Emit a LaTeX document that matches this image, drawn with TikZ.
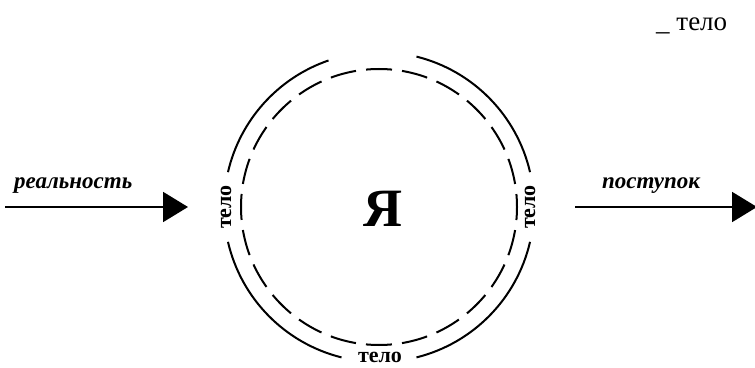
\documentclass[tikz,border=0pt]{standalone}
\usepackage{fontspec}
\setmainfont{Liberation Serif}
\usetikzlibrary{arrows.meta}

\begin{document}
\begin{tikzpicture}[x=1pt, y=1pt,
  ring/.style={line width=2pt},
  dashring/.style={line width=2pt, dash pattern=on 26pt off 10.13pt, dash phase=13pt},
  body/.style={font=\fontsize{22}{22}\selectfont\bfseries, inner sep=0pt},
  flow/.style={font=\fontsize{23}{23}\selectfont\bfseries\itshape, inner sep=0pt},
  arr/.style={line width=2pt, -{Triangle[length=25pt,width=30pt]}}
]
\useasboundingbox (0,0) rectangle (755,367);

% centre of the two rings
\coordinate (c) at (379,160);

% outer ring, broken at the four sides
\draw[ring] ([shift={(13:155pt)}]c) arc[start angle=13, end angle=76, radius=155pt];
\draw[ring] ([shift={(109:155pt)}]c) arc[start angle=109, end angle=167, radius=155pt];
\draw[ring] ([shift={(193:155pt)}]c) arc[start angle=193, end angle=256, radius=155pt];
\draw[ring] ([shift={(284:155pt)}]c) arc[start angle=284, end angle=347, radius=155pt];

% inner dashed ring
\draw[dashring] (c) circle[radius=138pt];

\node[font=\fontsize{54}{54}\selectfont\bfseries] (ja) at (383,158) {Я};

\node[body, rotate=90] (bodyL) at (226,160) {тело};
\node[body, rotate=90] (bodyR) at (530,160) {тело};
\node[body, anchor=base] (bodyB) at (380,4.5) {тело};

\node[font=\fontsize{27}{27}\selectfont, anchor=base west, inner sep=0pt] (legend) at (656,336) {\_ тело};

% in and out
\coordinate (src) at (5,160);
\coordinate (in) at (188,160);
\coordinate (out) at (575,160);
\coordinate (act) at (757,160);
\draw[arr] (src) -- (in);
\draw[arr] (out) -- (act);

\node[flow, anchor=base west] (real) at (14,178) {реальность};
\node[flow, anchor=base] (deed) at (651,178) {поступок};
\end{tikzpicture}
\end{document}
